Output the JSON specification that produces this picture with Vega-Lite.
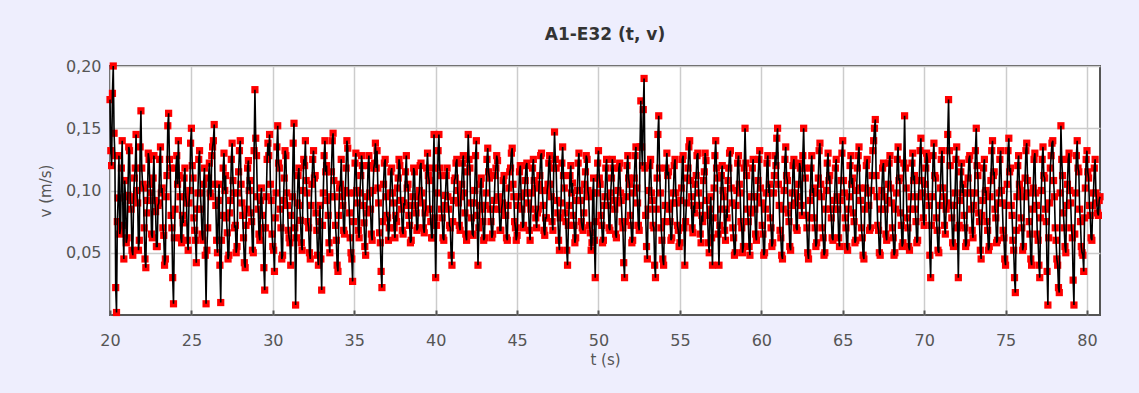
{
"$schema": "https://vega.github.io/schema/vega-lite/v6.json",
"autosize": {"type": "none"},
"width": 990,
"height": 249,
"padding": {"left": 110, "top": 66, "right": 39, "bottom": 78},
"background": "#EEEEFD",
"title": {"text": "A1-E32 (t, v)", "font": "DejaVu Sans", "fontSize": 17, "fontWeight": "bold", "color": "#333333", "offset": 14, "anchor": "middle"},
"config": {
  "view": {"fill": "white", "stroke": "#555555", "strokeWidth": 2},
  "axis": {"labelFont": "DejaVu Sans", "labelFontSize": 16, "labelColor": "#555555", "titleFont": "DejaVu Sans", "titleFontSize": 15, "titleFontWeight": "normal", "titleColor": "#555555", "gridColor": "#CCCCCC", "gridWidth": 1.5, "domain": false, "tickColor": "#555555"}
},
"data": {"values": [
{"t":20.0,"v":0.173},{"t":20.05,"v":0.132},{"t":20.1,"v":0.120},{"t":20.15,"v":0.178},{"t":20.2,"v":0.200},{"t":20.25,"v":0.146},{"t":20.3,"v":0.128},{"t":20.35,"v":0.022},{"t":20.4,"v":0.002},{"t":20.45,"v":0.075},{"t":20.5,"v":0.094},{"t":20.55,"v":0.128},{"t":20.6,"v":0.065},{"t":20.65,"v":0.070},{"t":20.7,"v":0.118},{"t":20.75,"v":0.140},{"t":20.8,"v":0.072},{"t":20.85,"v":0.045},{"t":20.9,"v":0.108},{"t":20.95,"v":0.095},
{"t":21.0,"v":0.058},{"t":21.05,"v":0.062},{"t":21.1,"v":0.096},{"t":21.15,"v":0.135},{"t":21.2,"v":0.132},{"t":21.25,"v":0.092},{"t":21.3,"v":0.085},{"t":21.35,"v":0.052},{"t":21.4,"v":0.048},{"t":21.45,"v":0.095},{"t":21.5,"v":0.110},{"t":21.55,"v":0.118},{"t":21.6,"v":0.145},{"t":21.65,"v":0.100},{"t":21.7,"v":0.090},{"t":21.75,"v":0.052},{"t":21.8,"v":0.060},{"t":21.85,"v":0.135},{"t":21.9,"v":0.164},{"t":21.95,"v":0.118},
{"t":22.0,"v":0.105},{"t":22.05,"v":0.102},{"t":22.1,"v":0.070},{"t":22.15,"v":0.045},{"t":22.2,"v":0.038},{"t":22.25,"v":0.082},{"t":22.3,"v":0.092},{"t":22.35,"v":0.130},{"t":22.4,"v":0.125},{"t":22.45,"v":0.105},{"t":22.5,"v":0.098},{"t":22.55,"v":0.065},{"t":22.6,"v":0.062},{"t":22.65,"v":0.110},{"t":22.7,"v":0.128},{"t":22.75,"v":0.092},{"t":22.8,"v":0.083},{"t":22.85,"v":0.055},{"t":22.9,"v":0.055},{"t":22.95,"v":0.088},
{"t":23.0,"v":0.090},{"t":23.05,"v":0.125},{"t":23.1,"v":0.135},{"t":23.15,"v":0.098},{"t":23.2,"v":0.102},{"t":23.25,"v":0.070},{"t":23.3,"v":0.064},{"t":23.35,"v":0.040},{"t":23.4,"v":0.045},{"t":23.45,"v":0.095},{"t":23.5,"v":0.112},{"t":23.55,"v":0.152},{"t":23.6,"v":0.162},{"t":23.65,"v":0.125},{"t":23.7,"v":0.118},{"t":23.75,"v":0.080},{"t":23.8,"v":0.070},{"t":23.85,"v":0.030},{"t":23.9,"v":0.009},{"t":23.95,"v":0.062},
{"t":24.0,"v":0.085},{"t":24.05,"v":0.118},{"t":24.1,"v":0.128},{"t":24.15,"v":0.105},{"t":24.2,"v":0.140},{"t":24.25,"v":0.112},{"t":24.3,"v":0.095},{"t":24.35,"v":0.062},{"t":24.4,"v":0.058},{"t":24.45,"v":0.080},{"t":24.5,"v":0.074},{"t":24.55,"v":0.110},{"t":24.6,"v":0.118},{"t":24.65,"v":0.095},{"t":24.7,"v":0.090},{"t":24.75,"v":0.060},{"t":24.8,"v":0.052},{"t":24.85,"v":0.090},{"t":24.9,"v":0.100},{"t":24.95,"v":0.138},
{"t":25.0,"v":0.150},{"t":25.05,"v":0.120},{"t":25.1,"v":0.110},{"t":25.15,"v":0.078},{"t":25.2,"v":0.068},{"t":25.25,"v":0.060},{"t":25.3,"v":0.042},{"t":25.35,"v":0.085},{"t":25.4,"v":0.098},{"t":25.45,"v":0.125},{"t":25.5,"v":0.132},{"t":25.55,"v":0.098},{"t":25.6,"v":0.085},{"t":25.65,"v":0.065},{"t":25.7,"v":0.060},{"t":25.75,"v":0.105},{"t":25.8,"v":0.118},{"t":25.85,"v":0.048},{"t":25.9,"v":0.009},{"t":25.95,"v":0.052},
{"t":26.0,"v":0.070},{"t":26.05,"v":0.110},{"t":26.1,"v":0.122},{"t":26.15,"v":0.098},{"t":26.2,"v":0.095},{"t":26.25,"v":0.128},{"t":26.3,"v":0.135},{"t":26.35,"v":0.140},{"t":26.4,"v":0.153},{"t":26.45,"v":0.105},{"t":26.5,"v":0.088},{"t":26.55,"v":0.060},{"t":26.6,"v":0.050},{"t":26.65,"v":0.092},{"t":26.7,"v":0.105},{"t":26.75,"v":0.040},{"t":26.8,"v":0.010},{"t":26.85,"v":0.060},{"t":26.9,"v":0.080},{"t":26.95,"v":0.118},
{"t":27.0,"v":0.130},{"t":27.05,"v":0.100},{"t":27.1,"v":0.112},{"t":27.15,"v":0.078},{"t":27.2,"v":0.066},{"t":27.25,"v":0.045},{"t":27.3,"v":0.048},{"t":27.35,"v":0.082},{"t":27.4,"v":0.092},{"t":27.45,"v":0.125},{"t":27.5,"v":0.138},{"t":27.55,"v":0.108},{"t":27.6,"v":0.098},{"t":27.65,"v":0.070},{"t":27.7,"v":0.072},{"t":27.75,"v":0.050},{"t":27.8,"v":0.055},{"t":27.85,"v":0.098},{"t":27.9,"v":0.115},{"t":27.95,"v":0.132},
{"t":28.0,"v":0.140},{"t":28.05,"v":0.105},{"t":28.1,"v":0.090},{"t":28.15,"v":0.080},{"t":28.2,"v":0.062},{"t":28.25,"v":0.042},{"t":28.3,"v":0.038},{"t":28.35,"v":0.072},{"t":28.4,"v":0.085},{"t":28.45,"v":0.118},{"t":28.5,"v":0.124},{"t":28.55,"v":0.100},{"t":28.6,"v":0.108},{"t":28.65,"v":0.082},{"t":28.7,"v":0.075},{"t":28.75,"v":0.052},{"t":28.8,"v":0.050},{"t":28.85,"v":0.132},{"t":28.9,"v":0.181},{"t":28.95,"v":0.142},
{"t":29.0,"v":0.128},{"t":29.05,"v":0.095},{"t":29.1,"v":0.085},{"t":29.15,"v":0.065},{"t":29.2,"v":0.060},{"t":29.25,"v":0.092},{"t":29.3,"v":0.102},{"t":29.35,"v":0.080},{"t":29.4,"v":0.070},{"t":29.45,"v":0.038},{"t":29.5,"v":0.020},{"t":29.55,"v":0.070},{"t":29.6,"v":0.095},{"t":29.65,"v":0.125},{"t":29.7,"v":0.138},{"t":29.75,"v":0.128},{"t":29.8,"v":0.145},{"t":29.85,"v":0.105},{"t":29.9,"v":0.092},{"t":29.95,"v":0.065},
{"t":30.0,"v":0.055},{"t":30.05,"v":0.052},{"t":30.1,"v":0.035},{"t":30.15,"v":0.078},{"t":30.2,"v":0.098},{"t":30.25,"v":0.135},{"t":30.3,"v":0.152},{"t":30.35,"v":0.122},{"t":30.4,"v":0.118},{"t":30.45,"v":0.085},{"t":30.5,"v":0.070},{"t":30.55,"v":0.045},{"t":30.6,"v":0.048},{"t":30.65,"v":0.092},{"t":30.7,"v":0.110},{"t":30.75,"v":0.132},{"t":30.8,"v":0.128},{"t":30.85,"v":0.098},{"t":30.9,"v":0.088},{"t":30.95,"v":0.068},
{"t":31.0,"v":0.062},{"t":31.05,"v":0.058},{"t":31.1,"v":0.040},{"t":31.15,"v":0.080},{"t":31.2,"v":0.095},{"t":31.25,"v":0.138},{"t":31.3,"v":0.154},{"t":31.35,"v":0.070},{"t":31.4,"v":0.008},{"t":31.45,"v":0.062},{"t":31.5,"v":0.090},{"t":31.55,"v":0.112},{"t":31.6,"v":0.118},{"t":31.65,"v":0.088},{"t":31.7,"v":0.076},{"t":31.75,"v":0.058},{"t":31.8,"v":0.052},{"t":31.85,"v":0.100},{"t":31.9,"v":0.125},{"t":31.95,"v":0.120},
{"t":32.0,"v":0.140},{"t":32.05,"v":0.108},{"t":32.1,"v":0.098},{"t":32.15,"v":0.075},{"t":32.2,"v":0.070},{"t":32.25,"v":0.050},{"t":32.3,"v":0.045},{"t":32.35,"v":0.088},{"t":32.4,"v":0.105},{"t":32.45,"v":0.125},{"t":32.5,"v":0.132},{"t":32.55,"v":0.110},{"t":32.6,"v":0.112},{"t":32.65,"v":0.082},{"t":32.7,"v":0.068},{"t":32.75,"v":0.048},{"t":32.8,"v":0.040},{"t":32.85,"v":0.075},{"t":32.9,"v":0.088},{"t":32.95,"v":0.045},
{"t":33.0,"v":0.020},{"t":33.05,"v":0.072},{"t":33.1,"v":0.098},{"t":33.15,"v":0.128},{"t":33.2,"v":0.140},{"t":33.25,"v":0.115},{"t":33.3,"v":0.120},{"t":33.35,"v":0.092},{"t":33.4,"v":0.080},{"t":33.45,"v":0.058},{"t":33.5,"v":0.050},{"t":33.55,"v":0.095},{"t":33.6,"v":0.115},{"t":33.65,"v":0.140},{"t":33.7,"v":0.146},{"t":33.75,"v":0.108},{"t":33.8,"v":0.095},{"t":33.85,"v":0.072},{"t":33.9,"v":0.060},{"t":33.95,"v":0.040},
{"t":34.0,"v":0.035},{"t":34.05,"v":0.080},{"t":34.1,"v":0.102},{"t":34.15,"v":0.105},{"t":34.2,"v":0.125},{"t":34.25,"v":0.095},{"t":34.3,"v":0.088},{"t":34.35,"v":0.068},{"t":34.4,"v":0.065},{"t":34.45,"v":0.100},{"t":34.5,"v":0.118},{"t":34.55,"v":0.140},{"t":34.6,"v":0.134},{"t":34.65,"v":0.098},{"t":34.7,"v":0.082},{"t":34.75,"v":0.062},{"t":34.8,"v":0.050},{"t":34.85,"v":0.045},{"t":34.9,"v":0.027},{"t":34.95,"v":0.075},
{"t":35.0,"v":0.098},{"t":35.05,"v":0.122},{"t":35.1,"v":0.130},{"t":35.15,"v":0.100},{"t":35.2,"v":0.090},{"t":35.25,"v":0.068},{"t":35.3,"v":0.062},{"t":35.35,"v":0.098},{"t":35.4,"v":0.112},{"t":35.45,"v":0.128},{"t":35.5,"v":0.120},{"t":35.55,"v":0.088},{"t":35.6,"v":0.074},{"t":35.65,"v":0.055},{"t":35.7,"v":0.048},{"t":35.75,"v":0.082},{"t":35.8,"v":0.095},{"t":35.85,"v":0.120},{"t":35.9,"v":0.128},{"t":35.95,"v":0.098},
{"t":36.0,"v":0.085},{"t":36.05,"v":0.065},{"t":36.1,"v":0.060},{"t":36.15,"v":0.100},{"t":36.2,"v":0.118},{"t":36.25,"v":0.122},{"t":36.3,"v":0.138},{"t":36.35,"v":0.118},{"t":36.4,"v":0.132},{"t":36.45,"v":0.102},{"t":36.5,"v":0.090},{"t":36.55,"v":0.066},{"t":36.6,"v":0.058},{"t":36.65,"v":0.035},{"t":36.7,"v":0.022},{"t":36.75,"v":0.075},{"t":36.8,"v":0.105},{"t":36.85,"v":0.122},{"t":36.9,"v":0.125},{"t":36.95,"v":0.095},
{"t":37.0,"v":0.080},{"t":37.05,"v":0.078},{"t":37.1,"v":0.060},{"t":37.15,"v":0.070},{"t":37.2,"v":0.098},{"t":37.25,"v":0.115},{"t":37.3,"v":0.118},{"t":37.35,"v":0.098},{"t":37.4,"v":0.090},{"t":37.45,"v":0.070},{"t":37.5,"v":0.062},{"t":37.55,"v":0.080},{"t":37.6,"v":0.075},{"t":37.65,"v":0.102},{"t":37.7,"v":0.110},{"t":37.75,"v":0.125},{"t":37.8,"v":0.120},{"t":37.85,"v":0.092},{"t":37.9,"v":0.085},{"t":37.95,"v":0.068},
{"t":38.0,"v":0.065},{"t":38.05,"v":0.090},{"t":38.1,"v":0.088},{"t":38.15,"v":0.115},{"t":38.2,"v":0.128},{"t":38.25,"v":0.102},{"t":38.3,"v":0.105},{"t":38.35,"v":0.080},{"t":38.4,"v":0.072},{"t":38.45,"v":0.058},{"t":38.5,"v":0.060},{"t":38.55,"v":0.088},{"t":38.6,"v":0.095},{"t":38.65,"v":0.118},{"t":38.7,"v":0.115},{"t":38.75,"v":0.088},{"t":38.8,"v":0.082},{"t":38.85,"v":0.068},{"t":38.9,"v":0.070},{"t":38.95,"v":0.095},
{"t":39.0,"v":0.100},{"t":39.05,"v":0.120},{"t":39.1,"v":0.122},{"t":39.15,"v":0.098},{"t":39.2,"v":0.090},{"t":39.25,"v":0.070},{"t":39.3,"v":0.066},{"t":39.35,"v":0.082},{"t":39.4,"v":0.085},{"t":39.45,"v":0.118},{"t":39.5,"v":0.130},{"t":39.55,"v":0.112},{"t":39.6,"v":0.108},{"t":39.65,"v":0.085},{"t":39.7,"v":0.075},{"t":39.75,"v":0.062},{"t":39.8,"v":0.062},{"t":39.85,"v":0.118},{"t":39.9,"v":0.145},{"t":39.95,"v":0.078},
{"t":40.0,"v":0.030},{"t":40.05,"v":0.072},{"t":40.1,"v":0.098},{"t":40.15,"v":0.132},{"t":40.2,"v":0.145},{"t":40.25,"v":0.118},{"t":40.3,"v":0.112},{"t":40.35,"v":0.085},{"t":40.4,"v":0.078},{"t":40.45,"v":0.062},{"t":40.5,"v":0.060},{"t":40.55,"v":0.088},{"t":40.6,"v":0.096},{"t":40.65,"v":0.112},{"t":40.7,"v":0.118},{"t":40.75,"v":0.095},{"t":40.8,"v":0.085},{"t":40.85,"v":0.072},{"t":40.9,"v":0.070},{"t":40.95,"v":0.048},
{"t":41.0,"v":0.040},{"t":41.05,"v":0.075},{"t":41.1,"v":0.092},{"t":41.15,"v":0.108},{"t":41.2,"v":0.110},{"t":41.25,"v":0.122},{"t":41.3,"v":0.125},{"t":41.35,"v":0.100},{"t":41.4,"v":0.090},{"t":41.45,"v":0.072},{"t":41.5,"v":0.068},{"t":41.55,"v":0.095},{"t":41.6,"v":0.105},{"t":41.65,"v":0.122},{"t":41.7,"v":0.128},{"t":41.75,"v":0.098},{"t":41.8,"v":0.082},{"t":41.85,"v":0.065},{"t":41.9,"v":0.060},{"t":41.95,"v":0.115},
{"t":42.0,"v":0.145},{"t":42.05,"v":0.125},{"t":42.1,"v":0.118},{"t":42.15,"v":0.090},{"t":42.2,"v":0.078},{"t":42.25,"v":0.065},{"t":42.3,"v":0.064},{"t":42.35,"v":0.090},{"t":42.4,"v":0.100},{"t":42.45,"v":0.128},{"t":42.5,"v":0.140},{"t":42.55,"v":0.080},{"t":42.6,"v":0.040},{"t":42.65,"v":0.070},{"t":42.7,"v":0.088},{"t":42.75,"v":0.105},{"t":42.8,"v":0.110},{"t":42.85,"v":0.085},{"t":42.9,"v":0.075},{"t":42.95,"v":0.060},
{"t":43.0,"v":0.062},{"t":43.05,"v":0.088},{"t":43.1,"v":0.098},{"t":43.15,"v":0.125},{"t":43.2,"v":0.134},{"t":43.25,"v":0.115},{"t":43.3,"v":0.110},{"t":43.35,"v":0.085},{"t":43.4,"v":0.075},{"t":43.45,"v":0.062},{"t":43.5,"v":0.065},{"t":43.55,"v":0.085},{"t":43.6,"v":0.092},{"t":43.65,"v":0.112},{"t":43.7,"v":0.118},{"t":43.75,"v":0.128},{"t":43.8,"v":0.124},{"t":43.85,"v":0.095},{"t":43.9,"v":0.085},{"t":43.95,"v":0.068},
{"t":44.0,"v":0.068},{"t":44.05,"v":0.085},{"t":44.1,"v":0.090},{"t":44.15,"v":0.108},{"t":44.2,"v":0.112},{"t":44.25,"v":0.088},{"t":44.3,"v":0.080},{"t":44.35,"v":0.062},{"t":44.4,"v":0.060},{"t":44.45,"v":0.088},{"t":44.5,"v":0.102},{"t":44.55,"v":0.115},{"t":44.6,"v":0.118},{"t":44.65,"v":0.130},{"t":44.7,"v":0.134},{"t":44.75,"v":0.105},{"t":44.8,"v":0.095},{"t":44.85,"v":0.075},{"t":44.9,"v":0.070},{"t":44.95,"v":0.060},
{"t":45.0,"v":0.064},{"t":45.05,"v":0.088},{"t":45.1,"v":0.095},{"t":45.15,"v":0.115},{"t":45.2,"v":0.120},{"t":45.25,"v":0.095},{"t":45.3,"v":0.085},{"t":45.35,"v":0.070},{"t":45.4,"v":0.072},{"t":45.45,"v":0.098},{"t":45.5,"v":0.108},{"t":45.55,"v":0.120},{"t":45.6,"v":0.122},{"t":45.65,"v":0.098},{"t":45.7,"v":0.090},{"t":45.75,"v":0.068},{"t":45.8,"v":0.060},{"t":45.85,"v":0.085},{"t":45.9,"v":0.098},{"t":45.95,"v":0.118},
{"t":46.0,"v":0.125},{"t":46.05,"v":0.108},{"t":46.1,"v":0.102},{"t":46.15,"v":0.078},{"t":46.2,"v":0.070},{"t":46.25,"v":0.082},{"t":46.3,"v":0.085},{"t":46.35,"v":0.105},{"t":46.4,"v":0.112},{"t":46.45,"v":0.128},{"t":46.5,"v":0.130},{"t":46.55,"v":0.100},{"t":46.6,"v":0.088},{"t":46.65,"v":0.068},{"t":46.7,"v":0.064},{"t":46.75,"v":0.078},{"t":46.8,"v":0.078},{"t":46.85,"v":0.100},{"t":46.9,"v":0.105},{"t":46.95,"v":0.122},
{"t":47.0,"v":0.128},{"t":47.05,"v":0.105},{"t":47.1,"v":0.095},{"t":47.15,"v":0.075},{"t":47.2,"v":0.068},{"t":47.25,"v":0.118},{"t":47.3,"v":0.147},{"t":47.35,"v":0.125},{"t":47.4,"v":0.118},{"t":47.45,"v":0.092},{"t":47.5,"v":0.082},{"t":47.55,"v":0.060},{"t":47.6,"v":0.052},{"t":47.65,"v":0.078},{"t":47.7,"v":0.090},{"t":47.75,"v":0.122},{"t":47.8,"v":0.135},{"t":47.85,"v":0.112},{"t":47.9,"v":0.102},{"t":47.95,"v":0.082},
{"t":48.0,"v":0.075},{"t":48.05,"v":0.052},{"t":48.1,"v":0.040},{"t":48.15,"v":0.072},{"t":48.2,"v":0.088},{"t":48.25,"v":0.112},{"t":48.3,"v":0.120},{"t":48.35,"v":0.098},{"t":48.4,"v":0.106},{"t":48.45,"v":0.080},{"t":48.5,"v":0.072},{"t":48.55,"v":0.058},{"t":48.6,"v":0.062},{"t":48.65,"v":0.092},{"t":48.7,"v":0.100},{"t":48.75,"v":0.122},{"t":48.8,"v":0.130},{"t":48.85,"v":0.100},{"t":48.9,"v":0.092},{"t":48.95,"v":0.075},
{"t":49.0,"v":0.070},{"t":49.05,"v":0.068},{"t":49.1,"v":0.082},{"t":49.15,"v":0.105},{"t":49.2,"v":0.115},{"t":49.25,"v":0.128},{"t":49.3,"v":0.125},{"t":49.35,"v":0.100},{"t":49.4,"v":0.095},{"t":49.45,"v":0.072},{"t":49.5,"v":0.066},{"t":49.55,"v":0.052},{"t":49.6,"v":0.058},{"t":49.65,"v":0.098},{"t":49.7,"v":0.110},{"t":49.75,"v":0.060},{"t":49.8,"v":0.030},{"t":49.85,"v":0.075},{"t":49.9,"v":0.098},{"t":49.95,"v":0.122},
{"t":50.0,"v":0.132},{"t":50.05,"v":0.110},{"t":50.1,"v":0.105},{"t":50.15,"v":0.080},{"t":50.2,"v":0.072},{"t":50.25,"v":0.058},{"t":50.3,"v":0.060},{"t":50.35,"v":0.088},{"t":50.4,"v":0.095},{"t":50.45,"v":0.118},{"t":50.5,"v":0.125},{"t":50.55,"v":0.095},{"t":50.6,"v":0.088},{"t":50.65,"v":0.070},{"t":50.7,"v":0.068},{"t":50.75,"v":0.098},{"t":50.8,"v":0.110},{"t":50.85,"v":0.125},{"t":50.9,"v":0.118},{"t":50.95,"v":0.092},
{"t":51.0,"v":0.085},{"t":51.05,"v":0.065},{"t":51.1,"v":0.062},{"t":51.15,"v":0.090},{"t":51.2,"v":0.100},{"t":51.25,"v":0.118},{"t":51.3,"v":0.122},{"t":51.35,"v":0.098},{"t":51.4,"v":0.092},{"t":51.45,"v":0.075},{"t":51.5,"v":0.070},{"t":51.55,"v":0.042},{"t":51.6,"v":0.030},{"t":51.65,"v":0.075},{"t":51.7,"v":0.095},{"t":51.75,"v":0.120},{"t":51.8,"v":0.128},{"t":51.85,"v":0.110},{"t":51.9,"v":0.105},{"t":51.95,"v":0.080},
{"t":52.0,"v":0.072},{"t":52.05,"v":0.058},{"t":52.1,"v":0.060},{"t":52.15,"v":0.098},{"t":52.2,"v":0.110},{"t":52.25,"v":0.128},{"t":52.3,"v":0.135},{"t":52.35,"v":0.102},{"t":52.4,"v":0.090},{"t":52.45,"v":0.072},{"t":52.5,"v":0.068},{"t":52.55,"v":0.135},{"t":52.6,"v":0.172},{"t":52.65,"v":0.135},{"t":52.7,"v":0.120},{"t":52.75,"v":0.165},{"t":52.8,"v":0.190},{"t":52.85,"v":0.118},{"t":52.9,"v":0.080},{"t":52.95,"v":0.055},
{"t":53.0,"v":0.045},{"t":53.05,"v":0.085},{"t":53.1,"v":0.100},{"t":53.15,"v":0.120},{"t":53.2,"v":0.125},{"t":53.25,"v":0.098},{"t":53.3,"v":0.092},{"t":53.35,"v":0.072},{"t":53.4,"v":0.070},{"t":53.45,"v":0.040},{"t":53.5,"v":0.030},{"t":53.55,"v":0.085},{"t":53.6,"v":0.110},{"t":53.65,"v":0.145},{"t":53.7,"v":0.160},{"t":53.75,"v":0.118},{"t":53.8,"v":0.098},{"t":53.85,"v":0.070},{"t":53.9,"v":0.060},{"t":53.95,"v":0.045},
{"t":54.0,"v":0.040},{"t":54.05,"v":0.075},{"t":54.1,"v":0.088},{"t":54.15,"v":0.118},{"t":54.2,"v":0.130},{"t":54.25,"v":0.112},{"t":54.3,"v":0.115},{"t":54.35,"v":0.085},{"t":54.4,"v":0.075},{"t":54.45,"v":0.060},{"t":54.5,"v":0.062},{"t":54.55,"v":0.090},{"t":54.6,"v":0.098},{"t":54.65,"v":0.120},{"t":54.7,"v":0.125},{"t":54.75,"v":0.098},{"t":54.8,"v":0.090},{"t":54.85,"v":0.072},{"t":54.9,"v":0.068},{"t":54.95,"v":0.055},
{"t":55.0,"v":0.058},{"t":55.05,"v":0.092},{"t":55.1,"v":0.102},{"t":55.15,"v":0.125},{"t":55.2,"v":0.128},{"t":55.25,"v":0.070},{"t":55.3,"v":0.040},{"t":55.35,"v":0.075},{"t":55.4,"v":0.090},{"t":55.45,"v":0.110},{"t":55.5,"v":0.118},{"t":55.55,"v":0.135},{"t":55.6,"v":0.140},{"t":55.65,"v":0.108},{"t":55.7,"v":0.095},{"t":55.75,"v":0.070},{"t":55.8,"v":0.066},{"t":55.85,"v":0.088},{"t":55.9,"v":0.082},{"t":55.95,"v":0.105},
{"t":56.0,"v":0.112},{"t":56.05,"v":0.128},{"t":56.1,"v":0.130},{"t":56.15,"v":0.098},{"t":56.2,"v":0.088},{"t":56.25,"v":0.065},{"t":56.3,"v":0.058},{"t":56.35,"v":0.080},{"t":56.4,"v":0.075},{"t":56.45,"v":0.108},{"t":56.5,"v":0.115},{"t":56.55,"v":0.130},{"t":56.6,"v":0.124},{"t":56.65,"v":0.092},{"t":56.7,"v":0.080},{"t":56.75,"v":0.058},{"t":56.8,"v":0.050},{"t":56.85,"v":0.085},{"t":56.9,"v":0.095},{"t":56.95,"v":0.062},
{"t":57.0,"v":0.040},{"t":57.05,"v":0.078},{"t":57.1,"v":0.102},{"t":57.15,"v":0.128},{"t":57.2,"v":0.140},{"t":57.25,"v":0.118},{"t":57.3,"v":0.110},{"t":57.35,"v":0.065},{"t":57.4,"v":0.040},{"t":57.45,"v":0.072},{"t":57.5,"v":0.085},{"t":57.55,"v":0.112},{"t":57.6,"v":0.120},{"t":57.65,"v":0.100},{"t":57.7,"v":0.095},{"t":57.75,"v":0.068},{"t":57.8,"v":0.060},{"t":57.85,"v":0.085},{"t":57.9,"v":0.078},{"t":57.95,"v":0.108},
{"t":58.0,"v":0.118},{"t":58.05,"v":0.130},{"t":58.1,"v":0.132},{"t":58.15,"v":0.102},{"t":58.2,"v":0.090},{"t":58.25,"v":0.070},{"t":58.3,"v":0.062},{"t":58.35,"v":0.048},{"t":58.4,"v":0.050},{"t":58.45,"v":0.088},{"t":58.5,"v":0.100},{"t":58.55,"v":0.122},{"t":58.6,"v":0.128},{"t":58.65,"v":0.105},{"t":58.7,"v":0.098},{"t":58.75,"v":0.075},{"t":58.8,"v":0.070},{"t":58.85,"v":0.050},{"t":58.9,"v":0.055},{"t":58.95,"v":0.118},
{"t":59.0,"v":0.150},{"t":59.05,"v":0.122},{"t":59.1,"v":0.112},{"t":59.15,"v":0.085},{"t":59.2,"v":0.075},{"t":59.25,"v":0.055},{"t":59.3,"v":0.048},{"t":59.35,"v":0.082},{"t":59.4,"v":0.095},{"t":59.45,"v":0.118},{"t":59.5,"v":0.125},{"t":59.55,"v":0.095},{"t":59.6,"v":0.085},{"t":59.65,"v":0.065},{"t":59.7,"v":0.060},{"t":59.75,"v":0.095},{"t":59.8,"v":0.108},{"t":59.85,"v":0.125},{"t":59.9,"v":0.132},{"t":59.95,"v":0.102},
{"t":60.0,"v":0.090},{"t":60.05,"v":0.072},{"t":60.1,"v":0.065},{"t":60.15,"v":0.048},{"t":60.2,"v":0.050},{"t":60.25,"v":0.085},{"t":60.3,"v":0.098},{"t":60.35,"v":0.122},{"t":60.4,"v":0.128},{"t":60.45,"v":0.098},{"t":60.5,"v":0.105},{"t":60.55,"v":0.078},{"t":60.6,"v":0.070},{"t":60.65,"v":0.055},{"t":60.7,"v":0.058},{"t":60.75,"v":0.098},{"t":60.8,"v":0.112},{"t":60.85,"v":0.128},{"t":60.9,"v":0.120},{"t":60.95,"v":0.142},
{"t":61.0,"v":0.150},{"t":61.05,"v":0.105},{"t":61.1,"v":0.088},{"t":61.15,"v":0.068},{"t":61.2,"v":0.062},{"t":61.25,"v":0.048},{"t":61.3,"v":0.045},{"t":61.35,"v":0.085},{"t":61.4,"v":0.100},{"t":61.45,"v":0.125},{"t":61.5,"v":0.135},{"t":61.55,"v":0.112},{"t":61.6,"v":0.108},{"t":61.65,"v":0.082},{"t":61.7,"v":0.075},{"t":61.75,"v":0.055},{"t":61.8,"v":0.052},{"t":61.85,"v":0.088},{"t":61.9,"v":0.098},{"t":61.95,"v":0.120},
{"t":62.0,"v":0.125},{"t":62.05,"v":0.098},{"t":62.1,"v":0.090},{"t":62.15,"v":0.070},{"t":62.2,"v":0.068},{"t":62.25,"v":0.095},{"t":62.3,"v":0.105},{"t":62.35,"v":0.122},{"t":62.4,"v":0.118},{"t":62.45,"v":0.088},{"t":62.5,"v":0.080},{"t":62.55,"v":0.128},{"t":62.6,"v":0.150},{"t":62.65,"v":0.118},{"t":62.7,"v":0.110},{"t":62.75,"v":0.080},{"t":62.8,"v":0.070},{"t":62.85,"v":0.050},{"t":62.9,"v":0.045},{"t":62.95,"v":0.078},
{"t":63.0,"v":0.092},{"t":63.05,"v":0.118},{"t":63.1,"v":0.128},{"t":63.15,"v":0.098},{"t":63.2,"v":0.102},{"t":63.25,"v":0.078},{"t":63.3,"v":0.070},{"t":63.35,"v":0.055},{"t":63.4,"v":0.058},{"t":63.45,"v":0.098},{"t":63.5,"v":0.110},{"t":63.55,"v":0.132},{"t":63.6,"v":0.138},{"t":63.65,"v":0.105},{"t":63.7,"v":0.095},{"t":63.75,"v":0.070},{"t":63.8,"v":0.062},{"t":63.85,"v":0.048},{"t":63.9,"v":0.050},{"t":63.95,"v":0.085},
{"t":64.0,"v":0.100},{"t":64.05,"v":0.122},{"t":64.1,"v":0.130},{"t":64.15,"v":0.108},{"t":64.2,"v":0.112},{"t":64.25,"v":0.085},{"t":64.3,"v":0.078},{"t":64.35,"v":0.062},{"t":64.4,"v":0.060},{"t":64.45,"v":0.085},{"t":64.5,"v":0.092},{"t":64.55,"v":0.118},{"t":64.6,"v":0.125},{"t":64.65,"v":0.095},{"t":64.7,"v":0.085},{"t":64.75,"v":0.062},{"t":64.8,"v":0.055},{"t":64.85,"v":0.092},{"t":64.9,"v":0.108},{"t":64.95,"v":0.130},
{"t":65.0,"v":0.140},{"t":65.05,"v":0.108},{"t":65.1,"v":0.098},{"t":65.15,"v":0.078},{"t":65.2,"v":0.070},{"t":65.25,"v":0.055},{"t":65.3,"v":0.052},{"t":65.35,"v":0.085},{"t":65.4,"v":0.095},{"t":65.45,"v":0.120},{"t":65.5,"v":0.128},{"t":65.55,"v":0.105},{"t":65.6,"v":0.110},{"t":65.65,"v":0.082},{"t":65.7,"v":0.075},{"t":65.75,"v":0.058},{"t":65.8,"v":0.060},{"t":65.85,"v":0.100},{"t":65.9,"v":0.118},{"t":65.95,"v":0.128},
{"t":66.0,"v":0.135},{"t":66.05,"v":0.102},{"t":66.1,"v":0.092},{"t":66.15,"v":0.070},{"t":66.2,"v":0.062},{"t":66.25,"v":0.048},{"t":66.3,"v":0.045},{"t":66.35,"v":0.085},{"t":66.4,"v":0.102},{"t":66.45,"v":0.120},{"t":66.5,"v":0.125},{"t":66.55,"v":0.098},{"t":66.6,"v":0.088},{"t":66.65,"v":0.068},{"t":66.7,"v":0.070},{"t":66.75,"v":0.100},{"t":66.8,"v":0.112},{"t":66.85,"v":0.132},{"t":66.9,"v":0.140},{"t":66.95,"v":0.150},
{"t":67.0,"v":0.157},{"t":67.05,"v":0.112},{"t":67.1,"v":0.095},{"t":67.15,"v":0.072},{"t":67.2,"v":0.068},{"t":67.25,"v":0.050},{"t":67.3,"v":0.048},{"t":67.35,"v":0.085},{"t":67.4,"v":0.100},{"t":67.45,"v":0.118},{"t":67.5,"v":0.122},{"t":67.55,"v":0.095},{"t":67.6,"v":0.085},{"t":67.65,"v":0.065},{"t":67.7,"v":0.060},{"t":67.75,"v":0.092},{"t":67.8,"v":0.105},{"t":67.85,"v":0.122},{"t":67.9,"v":0.128},{"t":67.95,"v":0.102},
{"t":68.0,"v":0.090},{"t":68.05,"v":0.070},{"t":68.1,"v":0.062},{"t":68.15,"v":0.048},{"t":68.2,"v":0.050},{"t":68.25,"v":0.085},{"t":68.3,"v":0.098},{"t":68.35,"v":0.125},{"t":68.4,"v":0.135},{"t":68.45,"v":0.108},{"t":68.5,"v":0.110},{"t":68.55,"v":0.082},{"t":68.6,"v":0.072},{"t":68.65,"v":0.055},{"t":68.7,"v":0.058},{"t":68.75,"v":0.122},{"t":68.8,"v":0.160},{"t":68.85,"v":0.118},{"t":68.9,"v":0.102},{"t":68.95,"v":0.078},
{"t":69.0,"v":0.070},{"t":69.05,"v":0.055},{"t":69.1,"v":0.052},{"t":69.15,"v":0.085},{"t":69.2,"v":0.095},{"t":69.25,"v":0.122},{"t":69.3,"v":0.130},{"t":69.35,"v":0.108},{"t":69.4,"v":0.112},{"t":69.45,"v":0.085},{"t":69.5,"v":0.075},{"t":69.55,"v":0.058},{"t":69.6,"v":0.060},{"t":69.65,"v":0.095},{"t":69.7,"v":0.108},{"t":69.75,"v":0.132},{"t":69.8,"v":0.142},{"t":69.85,"v":0.108},{"t":69.9,"v":0.098},{"t":69.95,"v":0.078},
{"t":70.0,"v":0.072},{"t":70.05,"v":0.105},{"t":70.1,"v":0.118},{"t":70.15,"v":0.130},{"t":70.2,"v":0.125},{"t":70.25,"v":0.095},{"t":70.3,"v":0.088},{"t":70.35,"v":0.048},{"t":70.4,"v":0.030},{"t":70.45,"v":0.072},{"t":70.5,"v":0.095},{"t":70.55,"v":0.128},{"t":70.6,"v":0.138},{"t":70.65,"v":0.112},{"t":70.7,"v":0.110},{"t":70.75,"v":0.078},{"t":70.8,"v":0.068},{"t":70.85,"v":0.052},{"t":70.9,"v":0.050},{"t":70.95,"v":0.088},
{"t":71.0,"v":0.102},{"t":71.05,"v":0.125},{"t":71.1,"v":0.132},{"t":71.15,"v":0.102},{"t":71.2,"v":0.095},{"t":71.25,"v":0.072},{"t":71.3,"v":0.065},{"t":71.35,"v":0.085},{"t":71.4,"v":0.090},{"t":71.45,"v":0.145},{"t":71.5,"v":0.173},{"t":71.55,"v":0.132},{"t":71.6,"v":0.120},{"t":71.65,"v":0.088},{"t":71.7,"v":0.078},{"t":71.75,"v":0.058},{"t":71.8,"v":0.055},{"t":71.85,"v":0.088},{"t":71.9,"v":0.098},{"t":71.95,"v":0.125},
{"t":72.0,"v":0.135},{"t":72.05,"v":0.070},{"t":72.1,"v":0.030},{"t":72.15,"v":0.072},{"t":72.2,"v":0.092},{"t":72.25,"v":0.115},{"t":72.3,"v":0.122},{"t":72.35,"v":0.098},{"t":72.4,"v":0.105},{"t":72.45,"v":0.080},{"t":72.5,"v":0.070},{"t":72.55,"v":0.055},{"t":72.6,"v":0.058},{"t":72.65,"v":0.098},{"t":72.7,"v":0.110},{"t":72.75,"v":0.125},{"t":72.8,"v":0.128},{"t":72.85,"v":0.098},{"t":72.9,"v":0.085},{"t":72.95,"v":0.068},
{"t":73.0,"v":0.062},{"t":73.05,"v":0.088},{"t":73.1,"v":0.098},{"t":73.15,"v":0.132},{"t":73.2,"v":0.150},{"t":73.25,"v":0.120},{"t":73.3,"v":0.112},{"t":73.35,"v":0.082},{"t":73.4,"v":0.075},{"t":73.45,"v":0.052},{"t":73.5,"v":0.045},{"t":73.55,"v":0.080},{"t":73.6,"v":0.092},{"t":73.65,"v":0.118},{"t":73.7,"v":0.125},{"t":73.75,"v":0.098},{"t":73.8,"v":0.100},{"t":73.85,"v":0.075},{"t":73.9,"v":0.068},{"t":73.95,"v":0.052},
{"t":74.0,"v":0.055},{"t":74.05,"v":0.095},{"t":74.1,"v":0.108},{"t":74.15,"v":0.132},{"t":74.2,"v":0.140},{"t":74.25,"v":0.112},{"t":74.3,"v":0.115},{"t":74.35,"v":0.085},{"t":74.4,"v":0.078},{"t":74.45,"v":0.058},{"t":74.5,"v":0.060},{"t":74.55,"v":0.090},{"t":74.6,"v":0.098},{"t":74.65,"v":0.125},{"t":74.7,"v":0.132},{"t":74.75,"v":0.100},{"t":74.8,"v":0.090},{"t":74.85,"v":0.068},{"t":74.9,"v":0.062},{"t":74.95,"v":0.045},
{"t":75.0,"v":0.040},{"t":75.05,"v":0.088},{"t":75.1,"v":0.105},{"t":75.15,"v":0.132},{"t":75.2,"v":0.142},{"t":75.25,"v":0.115},{"t":75.3,"v":0.118},{"t":75.35,"v":0.088},{"t":75.4,"v":0.080},{"t":75.45,"v":0.060},{"t":75.5,"v":0.052},{"t":75.55,"v":0.030},{"t":75.6,"v":0.018},{"t":75.65,"v":0.068},{"t":75.7,"v":0.095},{"t":75.75,"v":0.120},{"t":75.8,"v":0.128},{"t":75.85,"v":0.105},{"t":75.9,"v":0.100},{"t":75.95,"v":0.078},
{"t":76.0,"v":0.070},{"t":76.05,"v":0.052},{"t":76.1,"v":0.055},{"t":76.15,"v":0.095},{"t":76.2,"v":0.110},{"t":76.25,"v":0.132},{"t":76.3,"v":0.138},{"t":76.35,"v":0.108},{"t":76.4,"v":0.098},{"t":76.45,"v":0.075},{"t":76.5,"v":0.065},{"t":76.55,"v":0.045},{"t":76.6,"v":0.040},{"t":76.65,"v":0.085},{"t":76.7,"v":0.102},{"t":76.75,"v":0.125},{"t":76.8,"v":0.130},{"t":76.85,"v":0.098},{"t":76.9,"v":0.088},{"t":76.95,"v":0.065},
{"t":77.0,"v":0.060},{"t":77.05,"v":0.040},{"t":77.1,"v":0.030},{"t":77.15,"v":0.078},{"t":77.2,"v":0.100},{"t":77.25,"v":0.125},{"t":77.3,"v":0.135},{"t":77.35,"v":0.112},{"t":77.4,"v":0.110},{"t":77.45,"v":0.085},{"t":77.5,"v":0.075},{"t":77.55,"v":0.035},{"t":77.6,"v":0.008},{"t":77.65,"v":0.062},{"t":77.7,"v":0.090},{"t":77.75,"v":0.118},{"t":77.8,"v":0.128},{"t":77.85,"v":0.138},{"t":77.9,"v":0.140},{"t":77.95,"v":0.108},
{"t":78.0,"v":0.095},{"t":78.05,"v":0.070},{"t":78.1,"v":0.060},{"t":78.15,"v":0.045},{"t":78.2,"v":0.040},{"t":78.25,"v":0.022},{"t":78.3,"v":0.018},{"t":78.35,"v":0.098},{"t":78.4,"v":0.152},{"t":78.45,"v":0.125},{"t":78.5,"v":0.112},{"t":78.55,"v":0.082},{"t":78.6,"v":0.070},{"t":78.65,"v":0.055},{"t":78.7,"v":0.050},{"t":78.75,"v":0.088},{"t":78.8,"v":0.105},{"t":78.85,"v":0.125},{"t":78.9,"v":0.130},{"t":78.95,"v":0.100},
{"t":79.0,"v":0.090},{"t":79.05,"v":0.070},{"t":79.1,"v":0.062},{"t":79.15,"v":0.028},{"t":79.2,"v":0.008},{"t":79.25,"v":0.065},{"t":79.3,"v":0.098},{"t":79.35,"v":0.128},{"t":79.4,"v":0.140},{"t":79.45,"v":0.118},{"t":79.5,"v":0.115},{"t":79.55,"v":0.085},{"t":79.6,"v":0.075},{"t":79.65,"v":0.055},{"t":79.7,"v":0.050},{"t":79.75,"v":0.048},{"t":79.8,"v":0.035},{"t":79.85,"v":0.078},{"t":79.9,"v":0.102},{"t":79.95,"v":0.125},
{"t":80.0,"v":0.132},{"t":80.05,"v":0.115},{"t":80.1,"v":0.110},{"t":80.15,"v":0.088},{"t":80.2,"v":0.080},{"t":80.25,"v":0.062},{"t":80.3,"v":0.060},{"t":80.35,"v":0.088},{"t":80.4,"v":0.098},{"t":80.45,"v":0.118},{"t":80.5,"v":0.125},{"t":80.55,"v":0.098},{"t":80.6,"v":0.090},{"t":80.65,"v":0.082},{"t":80.7,"v":0.080},{"t":80.75,"v":0.092},{"t":80.8,"v":0.095}
]},
"encoding": {
  "x": {"field": "t", "type": "quantitative", "title": "t (s)",
        "scale": {"domain": [20, 80.8], "nice": false, "zero": false},
        "axis": {"values": [20,25,30,35,40,45,50,55,60,65,70,75,80], "format": "d", "tickSize": -5, "tickWidth": 2, "labelPadding": 22, "titlePadding": 4, "labelFlush": false}},
  "y": {"field": "v", "type": "quantitative", "title": "v (m/s)",
        "scale": {"domain": [0, 0.2], "nice": false},
        "axis": {"values": [0.05, 0.1, 0.15, 0.2], "format": ".2f", "labelExpr": "replace(datum.label, '.', ',')", "ticks": false, "labelPadding": 9, "titlePadding": 12}}
},
"layer": [
  {"mark": {"type": "point", "shape": "square", "filled": true, "size": 52, "color": "#FF0000", "opacity": 1, "clip": false}},
  {"mark": {"type": "line", "color": "#000000", "strokeWidth": 1.6, "clip": false}}
]
}
